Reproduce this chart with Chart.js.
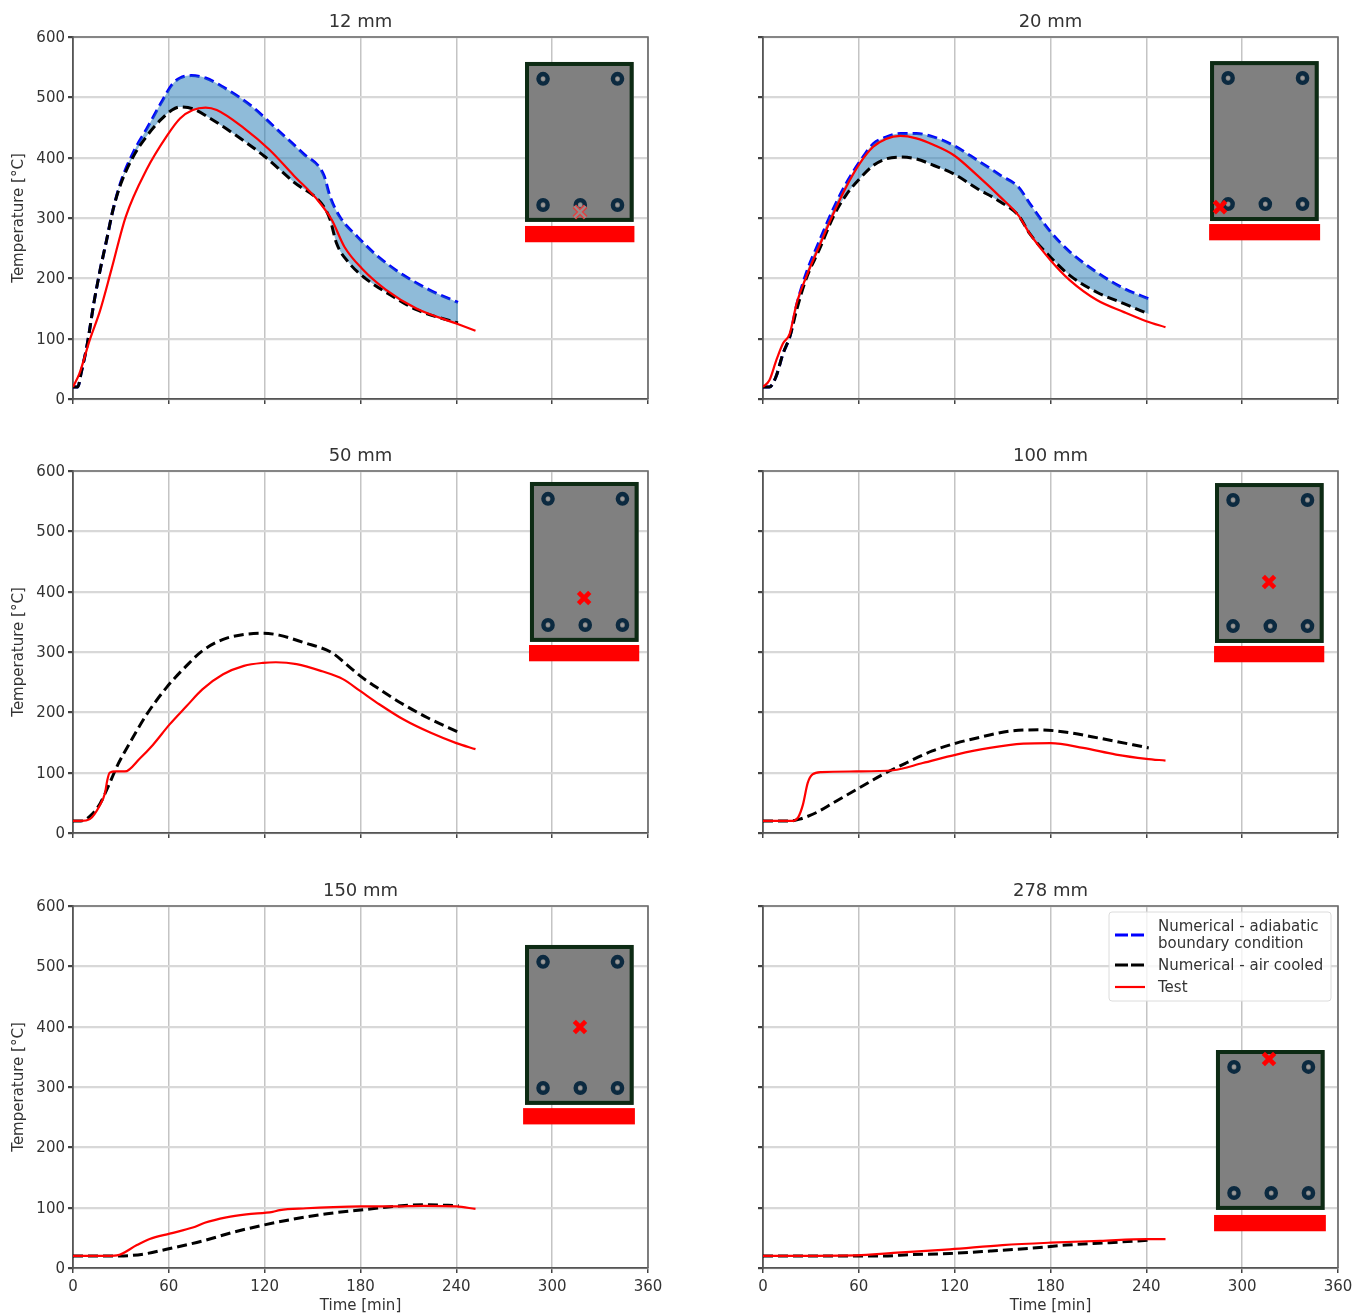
<!DOCTYPE html>
<html>
<head>
<meta charset="utf-8">
<title>Temperature vs time</title>
<script src="https://cdn.jsdelivr.net/npm/chart.js@4"></script>
<style>
    html, body { margin: 0; background: #fff; overflow: hidden; }
    #wrap { position: relative; width: 1354px; height: 1316px; overflow: hidden; }
    .cell { position: absolute; width: 664px; height: 447px; }
    .cell canvas { filter: blur(0.6px); }
</style>
</head>
<body>
<div id="wrap"></div>
<script>
// panel titles and axis ticks
const panelTitles = ['12 mm', '20 mm', '50 mm', '100 mm', '150 mm', '278 mm'];
const legendLabels = [['Numerical - adiabatic', 'boundary condition'], ['Numerical - air cooled'], ['Test']];
const timeTicks = [0, 60, 120, 180, 240, 300, 360];
const tempTicks = [0, 100, 200, 300, 400, 500, 600];

// 12 mm
const adiaTime12 = [0, 3, 5, 9, 13, 17, 21, 25, 30, 38, 46, 55, 62, 67, 74, 83, 94, 112, 128, 144, 157, 161, 167, 178, 191, 207, 223, 241];
const adiaTemp12 = [20, 20, 42, 92, 158, 214, 263, 313, 360, 410, 447, 490, 521, 532, 536, 532, 517, 485, 446, 407, 371, 335, 302, 269, 236, 205, 181, 160];
const airTime12 = [0, 3, 5, 9, 13, 17, 21, 25, 30, 38, 46, 55, 62, 67, 75, 86, 102, 120, 138, 157, 161, 165, 173, 183, 199, 215, 241];
const airTemp12 = [20, 20, 42, 92, 158, 214, 263, 313, 357, 403, 435, 463, 479, 484, 481, 465, 437, 402, 360, 319, 297, 258, 225, 200, 172, 148, 126];
const testTime12 = [0, 4, 10.5, 17, 24, 33, 46, 59, 67, 75, 83, 90, 107, 123, 138, 154, 162, 170, 181, 196, 215, 240, 252];
const testTemp12 = [20, 42, 98, 147, 214, 302, 380, 437, 465, 479, 483, 479, 449, 413, 371, 327, 297, 252, 216, 181, 150, 125, 113];

// 20 mm
const adiaTime20 = [0, 4, 8, 12.5, 17, 21, 27, 35.5, 44, 52, 60.5, 69, 77, 86, 96, 107, 119.5, 134, 148.5, 160, 167, 180, 192, 209, 226, 241.5];
const adiaTemp20 = [20, 20, 36, 75, 105, 155, 208, 263, 315, 357, 393, 423, 434, 440, 440, 434, 420, 396, 371, 351, 324, 277, 244, 210, 183, 166];
const airTime20 = [0, 4, 8, 12.5, 17, 21, 27, 35.5, 44, 52, 60.5, 69, 77, 86, 96, 107, 119.5, 134, 148.5, 160, 167, 180, 192, 209, 226, 241.5];
const airTemp20 = [20, 20, 36, 75, 105, 147, 199, 249, 302, 338, 365, 387, 398, 401, 398, 387, 373, 349, 327, 304, 274, 235, 205, 177, 158, 141];
const testTime20 = [0, 4, 8.3, 12.5, 16.7, 21, 27, 35.5, 44, 52, 60.5, 69, 77, 86, 96, 107, 119.5, 134, 148.5, 160, 167, 180, 192, 209, 226, 240, 252];
const testTemp20 = [20, 31, 64, 92, 108, 158, 202, 255, 307, 351, 390, 418, 431, 436, 432, 421, 404, 371, 335, 304, 274, 230, 197, 164, 144, 129, 119];

// 50 mm
const airTime50 = [0, 5, 11.5, 17, 23, 28, 35.5, 46, 58.5, 71, 81, 94, 107, 119, 129, 144, 162, 171, 180, 192, 205, 222, 241.5];
const airTemp50 = [20, 20, 30, 49, 83, 113, 149, 196, 241, 277, 302, 321, 329, 331, 328, 316, 299, 280, 260, 238, 216, 191, 167];
const testTime50 = [0, 5, 10.5, 17, 20, 21.5, 23, 27, 32.5, 42, 50, 60.5, 71, 81, 94, 107, 119, 127, 140, 156, 169, 180, 192, 207, 224, 240, 252];
const testTemp50 = [20, 20, 23, 47, 66, 88, 100, 102, 102, 124, 146, 180, 210, 238, 263, 277, 282, 283, 280, 268, 255, 235, 213, 188, 166, 149, 139];

// 100 mm
const airTime100 = [0, 16.7, 23, 33.5, 44, 58.5, 75, 89.5, 106, 121, 138, 154.5, 173, 190, 211, 241.5];
const airTemp100 = [20, 20, 23, 34, 50, 72, 97, 116, 136, 149, 160, 169, 171, 167, 157, 141];
const testTime100 = [0, 18, 22, 25, 28, 31, 36.5, 58.5, 81.5, 100, 121, 142, 163, 180, 200.5, 221, 240, 252];
const testTemp100 = [20, 20, 26, 47, 83, 97, 101, 102, 104, 116, 130, 141, 148, 149, 141, 130, 123, 120];

// 150 mm
const airTime150 = [0, 19, 29, 44, 58.5, 81.5, 100, 119, 138, 159, 180, 200.5, 221, 241.5];
const airTemp150 = [20, 20, 20, 23, 31, 45, 59, 71, 81, 90, 96, 102, 105, 103];
const testTime150 = [0, 19, 27.5, 40, 48, 60.5, 75, 82.5, 96, 108.5, 125, 129.5, 146, 163, 180, 200.5, 219, 240, 252];
const testTemp150 = [20, 20, 21, 38, 48, 57, 67, 75, 84, 89, 93, 96, 99, 101, 102, 102, 103, 102, 98];

// 278 mm
const airTime278 = [0, 58.5, 75, 92, 117, 142, 169, 190, 217, 241.5];
const airTemp278 = [20, 20, 20, 22, 24, 28, 33, 38, 42, 46];
const testTime278 = [0, 58.5, 81.5, 117, 150, 180, 211, 240, 252];
const testTemp278 = [20, 21, 25, 31, 38, 42, 45, 48, 48];

// thermocouple position inside the section, in axis units
const crossTime = [317.4, 286.1, 320, 316.8, 317.4, 316.8];
const crossTemp = [310, 318, 389.5, 416, 399.5, 346.4];

// cross-section sketch placement, in axis units
const insetLeft = [283, 279.9, 286.1, 283, 283, 283.6];
const insetTop = [558.6, 560, 581.8, 580, 535.4, 361.3];
const barLeft = [283, 279.3, 285.5, 282.4, 281.8, 282.4];
const barWidth = [68.5, 69.5, 69, 69, 70, 70];
const barTop = [286.8, 290, 311.6, 310, 265, 87.9];
const insetW = 68, insetH = 265, barH = 27;
const rebarX = [11.3, 57.9, 11.3, 34.6, 57.9];
const rebarY = [28, 28, 237, 237, 237];

const panelSeries = [
    { adia: [adiaTime12, adiaTemp12], air: [airTime12, airTemp12], test: [testTime12, testTemp12] },
    { adia: [adiaTime20, adiaTemp20], air: [airTime20, airTemp20], test: [testTime20, testTemp20] },
    { air: [airTime50, airTemp50], test: [testTime50, testTemp50] },
    { air: [airTime100, airTemp100], test: [testTime100, testTemp100] },
    { air: [airTime150, airTemp150], test: [testTime150, testTemp150] },
    { air: [airTime278, airTemp278], test: [testTime278, testTemp278] }
];

const FONT = '"DejaVu Sans", sans-serif';
const TEXT = '#333';

function pairs(s) {
    return s[0].map((t, i) => ({ x: t, y: s[1][i] }));
}

const panelDecor = {
    id: 'panelDecor',
    beforeDatasetsDraw(chart, args, opts) {
        const c = chart.ctx, i = opts.index;
        const sx = chart.scales.x, sy = chart.scales.y;
        c.save();
        // red fire bar
        const bx = sx.getPixelForValue(barLeft[i]);
        const bw = sx.getPixelForValue(barLeft[i] + barWidth[i]) - bx;
        const by = sy.getPixelForValue(barTop[i]);
        c.fillStyle = '#ff0000';
        c.fillRect(bx, by, bw, sy.getPixelForValue(barTop[i] - barH) - by);
        // section
        const x0 = sx.getPixelForValue(insetLeft[i]);
        const w = sx.getPixelForValue(insetLeft[i] + insetW) - x0;
        const y0 = sy.getPixelForValue(insetTop[i]);
        const h = sy.getPixelForValue(insetTop[i] - insetH) - y0;
        c.fillStyle = '#808080';
        c.fillRect(x0, y0, w, h);
        c.strokeStyle = '#0d2b14';
        c.lineWidth = 4;
        c.strokeRect(x0 + 2, y0 + 2, w - 4, h - 4);
        // rebars
        rebarX.forEach((rx, k) => {
            const px = sx.getPixelForValue(insetLeft[i] + rx);
            const py = sy.getPixelForValue(insetTop[i] - rebarY[k]);
            c.beginPath();
            c.ellipse(px, py, 4.6, 4.8, 0, 0, Math.PI * 2);
            c.strokeStyle = '#0c2a40';
            c.lineWidth = 4.4;
            c.stroke();
            c.beginPath();
            c.arc(px, py, 1.8, 0, Math.PI * 2);
            c.fillStyle = '#9a9a9a';
            c.fill();
        });
        c.restore();
    },
    afterDraw(chart, args, opts) {
        const c = chart.ctx, a = chart.chartArea;
        c.save();
        // top and right spines
        c.strokeStyle = '#6a6a6a';
        c.lineWidth = 1.6;
        c.beginPath();
        c.moveTo(a.left, a.top);
        c.lineTo(a.right, a.top);
        c.lineTo(a.right, a.bottom);
        c.stroke();
        if (opts.legend) drawLegend(c, a);
        c.restore();
    }
};

function drawLegend(c, a) {
    const lx = a.left + 346, ly = a.top + 6;
    c.beginPath();
    c.roundRect(lx, ly, 222, 89, 3);
    c.fillStyle = 'rgba(255,255,255,0.8)';
    c.fill();
    c.strokeStyle = '#dcdcdc';
    c.lineWidth = 1;
    c.stroke();

    c.font = '15px ' + FONT;
    c.fillStyle = TEXT;
    c.textBaseline = 'middle';
    c.textAlign = 'left';
    const tx = lx + 49;
    c.fillText(legendLabels[0][0], tx, ly + 15);
    c.fillText(legendLabels[0][1], tx, ly + 32);
    c.fillText(legendLabels[1][0], tx, ly + 54);
    c.fillText(legendLabels[2][0], tx, ly + 76);

    const handle = (y, color, dash, width) => {
        c.beginPath();
        c.setLineDash(dash);
        c.strokeStyle = color;
        c.lineWidth = width;
        c.moveTo(lx + 6, y);
        c.lineTo(lx + 36, y);
        c.stroke();
    };
    handle(ly + 23, '#0000ff', [13, 3], 3);
    handle(ly + 53, '#000000', [13, 3], 3);
    handle(ly + 75, '#ff0000', [], 2.2);
    c.setLineDash([]);
}

function addPanel(i) {
    const col = i % 2, row = Math.floor(i / 2);
    const cell = document.createElement('div');
    cell.className = 'cell';
    cell.style.left = (col ? 690 : 0) + 'px';
    cell.style.top = [0, 434, 869][row] + 'px';
    const canvas = document.createElement('canvas');
    canvas.width = 664;
    canvas.height = 447;
    cell.appendChild(canvas);
    document.getElementById('wrap').appendChild(cell);

    const s = panelSeries[i];
    const datasets = [];
    if (s.adia) {
        datasets.push({
            data: pairs(s.adia), borderColor: '#0000ff', borderWidth: 3, borderDash: [10, 5],
            pointRadius: 0, cubicInterpolationMode: 'monotone', fill: false, order: 3
        });
    }
    datasets.push({
        data: pairs(s.air), borderColor: '#000000', borderWidth: 3, borderDash: [10, 5],
        pointRadius: 0, cubicInterpolationMode: 'monotone', order: 2,
        fill: s.adia ? { target: 0 } : false, backgroundColor: 'rgba(31,119,180,0.5)'
    });
    datasets.push({
        data: pairs(s.test), borderColor: '#ff0000', borderWidth: 2.2,
        pointRadius: 0, cubicInterpolationMode: 'monotone', fill: false, order: 1
    });
    // the first panel's marker is hollow
    if (i === 0) {
        datasets.push({
            data: [{ x: crossTime[i], y: crossTemp[i] }], showLine: false, pointStyle: 'crossRot',
            pointRadius: 8, pointBorderWidth: 2.2, pointBorderColor: '#9a8a8a', order: -1
        });
    }
    datasets.push({
        data: [{ x: crossTime[i], y: crossTemp[i] }], showLine: false, pointStyle: 'crossRot',
        pointRadius: 8, pointBorderWidth: i === 0 ? 5 : 4.6,
        pointBorderColor: i === 0 ? '#e04040' : '#ff0000', order: 0
    });

    new Chart(canvas, {
        type: 'line',
        data: { datasets: datasets },
        plugins: [panelDecor],
        options: {
            responsive: false,
            animation: false,
            layout: { padding: { left: 0, right: 16, top: 0, bottom: 0 } },
            plugins: {
                legend: { display: false },
                tooltip: { enabled: false },
                title: {
                    display: true, text: panelTitles[i], fullSize: false, color: TEXT,
                    font: { family: FONT, size: 18, weight: 'normal', lineHeight: 1.2 },
                    padding: { top: 12, bottom: 3.4 }
                },
                panelDecor: { index: i, legend: i === 5 }
            },
            scales: {
                x: {
                    type: 'linear', min: 0, max: 360,
                    afterFit: sc => { sc.height = 48; sc.paddingLeft = 0; sc.paddingRight = 0; },
                    afterBuildTicks: sc => { sc.ticks = timeTicks.map(v => ({ value: v })); },
                    grid: { color: '#c4c4c4', lineWidth: 1.5, tickColor: '#444', tickLength: 5 },
                    border: { color: '#555', width: 1.8 },
                    ticks: {
                        autoSkip: false, maxRotation: 0, color: TEXT, padding: 5,
                        font: { family: FONT, size: 15 },
                        callback: v => (row === 2 ? String(v) : '')
                    },
                    title: {
                        display: row === 2, text: 'Time [min]', color: TEXT,
                        font: { family: FONT, size: 15 }, padding: { top: 0, bottom: 1 }
                    }
                },
                y: {
                    type: 'linear', min: 0, max: 600,
                    afterFit: sc => { sc.width = 73; sc.paddingTop = 0; sc.paddingBottom = 0; },
                    afterBuildTicks: sc => { sc.ticks = tempTicks.map(v => ({ value: v })); },
                    grid: { color: '#d8d8d8', lineWidth: 2.2, tickColor: '#444', tickLength: 5 },
                    border: { color: '#555', width: 1.8 },
                    ticks: {
                        autoSkip: false, color: TEXT, padding: 3, labelOffset: 1,
                        font: { family: FONT, size: 15 },
                        callback: v => (col === 0 ? String(v) : '')
                    },
                    title: {
                        display: col === 0, text: 'Temperature [°C]', color: TEXT,
                        font: { family: FONT, size: 15 }, padding: { top: 10, bottom: 0 }
                    }
                }
            }
        }
    });
}

panelTitles.forEach((t, i) => addPanel(i));
</script>
</body>
</html>
